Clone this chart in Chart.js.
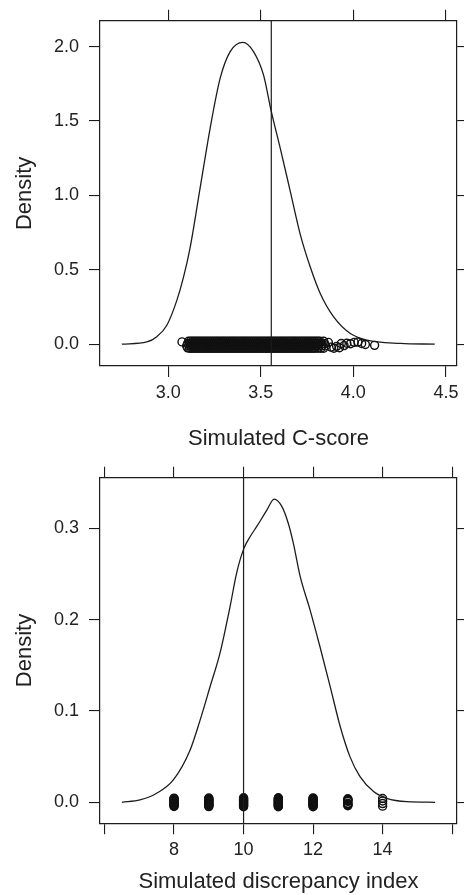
<!DOCTYPE html>
<html>
<head>
<meta charset="utf-8">
<script src="https://cdn.jsdelivr.net/npm/chart.js@4"></script>
<style>
  html, body { margin: 0; padding: 0; background: #fff; }
  #wrap { position: relative; width: 464px; height: 895px; }
  canvas { position: absolute; left: 0; }
</style>
</head>
<body>
<div id="wrap">
  <canvas id="cscore" width="464" height="455" style="top:0"></canvas>
  <canvas id="disc" width="464" height="440" style="top:455px"></canvas>
</div>
<script>
// ---- C-score panel ----
const cscoreX = [2.75, 2.885, 2.939, 2.993, 3.047, 3.083, 3.119, 3.173, 3.227, 3.281, 3.335, 3.404,
                 3.461, 3.515, 3.557, 3.605, 3.659, 3.713, 3.768, 3.822, 3.894, 3.984, 4.074, 4.254, 4.44];
const cscoreDensity = [0, 0.015, 0.05, 0.127, 0.294, 0.45, 0.651, 1.052, 1.453, 1.788, 1.967, 2.029,
                       1.967, 1.81, 1.565, 1.32, 1.03, 0.74, 0.517, 0.339, 0.183, 0.071, 0.027, 0.005, 0];
const cscoreObserved = 3.557;
const cscoreXTicks = [3.0, 3.5, 4.0, 4.5];
const cscoreYTicks = [0.0, 0.5, 1.0, 1.5, 2.0];

// simulated C-scores, drawn as a jittered rug (four jitter rows)
const simRowA = [3.11, 3.12, 3.13, 3.14, 3.15, 3.16, 3.17, 3.18, 3.19, 3.20, 3.21, 3.22, 3.23, 3.24, 3.25,
                 3.26, 3.27, 3.28, 3.29, 3.30, 3.31, 3.32, 3.33, 3.34, 3.35, 3.36, 3.37, 3.38, 3.39, 3.40,
                 3.41, 3.42, 3.43, 3.44, 3.45, 3.46, 3.47, 3.48, 3.49, 3.50, 3.51, 3.52, 3.53, 3.54, 3.55,
                 3.56, 3.57, 3.58, 3.59, 3.60, 3.61, 3.62, 3.63, 3.64, 3.65, 3.66, 3.67, 3.68, 3.69, 3.70,
                 3.71, 3.72, 3.73, 3.74, 3.75, 3.76, 3.77, 3.78, 3.79, 3.80, 3.81, 3.82, 3.84];
const simRowB = [3.105, 3.115, 3.125, 3.135, 3.145, 3.155, 3.165, 3.175, 3.185, 3.195, 3.205, 3.215, 3.225,
                 3.235, 3.245, 3.255, 3.265, 3.275, 3.285, 3.295, 3.305, 3.315, 3.325, 3.335, 3.345, 3.355,
                 3.365, 3.375, 3.385, 3.395, 3.405, 3.415, 3.425, 3.435, 3.445, 3.455, 3.465, 3.475, 3.485,
                 3.495, 3.505, 3.515, 3.525, 3.535, 3.545, 3.555, 3.565, 3.575, 3.585, 3.595, 3.605, 3.615,
                 3.625, 3.635, 3.645, 3.655, 3.665, 3.675, 3.685, 3.695, 3.705, 3.715, 3.725, 3.735, 3.745,
                 3.755, 3.765, 3.775, 3.785, 3.795, 3.805, 3.815, 3.83, 3.845];
const simRowC = [3.12, 3.13, 3.14, 3.15, 3.16, 3.17, 3.18, 3.19, 3.20, 3.21, 3.22, 3.23, 3.24, 3.25, 3.26,
                 3.27, 3.28, 3.29, 3.30, 3.31, 3.32, 3.33, 3.34, 3.35, 3.36, 3.37, 3.38, 3.39, 3.40, 3.41,
                 3.42, 3.43, 3.44, 3.45, 3.46, 3.47, 3.48, 3.49, 3.50, 3.51, 3.52, 3.53, 3.54, 3.55, 3.56,
                 3.57, 3.58, 3.59, 3.60, 3.61, 3.62, 3.63, 3.64, 3.65, 3.66, 3.67, 3.68, 3.69, 3.70, 3.71,
                 3.72, 3.73, 3.74, 3.75, 3.76, 3.77, 3.78, 3.79, 3.80, 3.81, 3.83, 3.85];
const simRowD = [3.115, 3.125, 3.135, 3.145, 3.155, 3.165, 3.175, 3.185, 3.195, 3.205, 3.215, 3.225, 3.235,
                 3.245, 3.255, 3.265, 3.275, 3.285, 3.295, 3.305, 3.315, 3.325, 3.335, 3.345, 3.355, 3.365,
                 3.375, 3.385, 3.395, 3.405, 3.415, 3.425, 3.435, 3.445, 3.455, 3.465, 3.475, 3.485, 3.495,
                 3.505, 3.515, 3.525, 3.535, 3.545, 3.555, 3.565, 3.575, 3.585, 3.595, 3.605, 3.615, 3.625,
                 3.635, 3.645, 3.655, 3.665, 3.675, 3.685, 3.695, 3.705, 3.715, 3.725, 3.735, 3.745, 3.755,
                 3.765, 3.775, 3.785, 3.795, 3.81, 3.825, 3.84];
const simRowJitter = [0.019, 0.003, -0.012, -0.028];
const simTails = [[3.075, 0.015], [3.10, -0.012], [3.105, -0.025], [3.865, 0.012], [3.88, -0.02], [3.895, -0.028],
                  [3.91, -0.015], [3.925, -0.024], [3.935, 0.004], [3.95, -0.01], [3.965, 0.006], [3.985, 0.003],
                  [4.005, 0.012], [4.025, 0.014], [4.045, 0.004], [4.065, -0.002], [4.115, -0.008]];

// ---- discrepancy panel ----
const discX = [6.5, 7.02, 7.5, 7.98, 8.46, 8.75, 9.04, 9.32, 9.61, 9.8, 10.01, 10.19, 10.38, 10.67, 10.88,
               11.1, 11.29, 11.43, 11.63, 11.91, 12.2, 12.49, 12.78, 13.06, 13.35, 13.74, 14.12, 14.7, 15.51];
const discDensity = [0, 0.0026, 0.0099, 0.0245, 0.057, 0.09, 0.127, 0.163, 0.214, 0.251, 0.278, 0.291, 0.302,
                     0.32, 0.332, 0.324, 0.305, 0.284, 0.247, 0.211, 0.17, 0.127, 0.083, 0.05, 0.028, 0.0117,
                     0.0044, 0.0007, 0];
const discObserved = 10;
const discXTicks = [6, 8, 10, 12, 14, 16];
const discXLabels = ['', '8', '10', '12', '14', ''];
const discYTicks = [0.0, 0.1, 0.2, 0.3];
// simulated discrepancy values (integers) with their vertical jitter
const discValues = [8, 9, 10, 11, 12, 13, 14];
const discJitter = [
  [-0.0046, -0.0039, -0.0032, -0.0025, -0.0018, -0.0011, -0.0004, 0.0004, 0.0011, 0.0018, 0.0025, 0.0032, 0.0039, 0.0046],
  [-0.0047, -0.004, -0.0033, -0.0026, -0.0019, -0.0012, -0.0005, 0.0005, 0.0012, 0.0019, 0.0026, 0.0033, 0.004, 0.0047],
  [-0.0049, -0.0042, -0.0035, -0.0028, -0.0021, -0.0014, -0.0007, 0, 0.0007, 0.0014, 0.0021, 0.0028, 0.0035, 0.0042, 0.0049],
  [-0.0049, -0.0042, -0.0035, -0.0028, -0.0021, -0.0014, -0.0007, 0, 0.0007, 0.0014, 0.0021, 0.0028, 0.0035, 0.0042, 0.0049],
  [-0.0048, -0.0041, -0.0034, -0.0027, -0.002, -0.0013, -0.0006, 0, 0.0006, 0.0013, 0.002, 0.0027, 0.0034, 0.0041, 0.0048],
  [-0.0038, -0.0031, -0.0024, -0.0017, -0.001, 0.001, 0.0017, 0.0024, 0.0031, 0.0038],
  [-0.0042, -0.0014, 0.0014, 0.0042]
];

const ink = '#1c1c1c';
const textInk = '#222';
const family = "'Liberation Sans', Arial, sans-serif";

function tickList(vals, labels) {
  return s => { s.ticks = vals.map((v, i) => ({ value: v, label: labels[i] })); };
}

function makeScales(c) {
  const grid = { drawOnChartArea: false, drawTicks: true, tickLength: 11, color: ink, lineWidth: 1.1 };
  const border = { display: true, color: ink, width: 1.2 };
  const hidden = { display: false };
  return {
    x: {
      type: 'linear', position: 'bottom', min: c.xMin, max: c.xMax,
      grid, border,
      afterBuildTicks: tickList(c.xTicks, c.xLabels),
      ticks: { color: textInk, font: { family, size: 18 }, padding: 5, autoSkip: false, maxRotation: 0,
               callback: (v, i) => c.xLabels[i] },
      title: { display: true, text: c.xTitle, color: textInk, font: { family, size: 22, lineHeight: 1.2 },
               padding: { top: 0, bottom: c.titlePad } },
      afterFit: s => { s.height = c.bottomH; }
    },
    x2: {
      type: 'linear', position: 'top', min: c.xMin, max: c.xMax,
      grid, border,
      afterBuildTicks: tickList(c.xTicks, c.xLabels),
      ticks: hidden,
      afterFit: s => { s.height = c.topH; }
    },
    y: {
      type: 'linear', position: 'left', min: c.yMin, max: c.yMax,
      grid, border,
      afterBuildTicks: tickList(c.yTicks, c.yLabels),
      ticks: { color: textInk, font: { family, size: 18 }, padding: 10, autoSkip: false,
               callback: (v, i) => c.yLabels[i] },
      title: { display: true, text: 'Density', color: textInk, font: { family, size: 22, lineHeight: 1.2 },
               padding: { top: 12, bottom: 0 } },
      afterFit: s => { s.width = 100; }
    },
    y2: {
      type: 'linear', position: 'right', min: c.yMin, max: c.yMax,
      grid, border,
      afterBuildTicks: tickList(c.yTicks, c.yLabels),
      ticks: hidden,
      afterFit: s => { s.width = 7; }
    }
  };
}

function makeChart(id, c) {
  return new Chart(document.getElementById(id).getContext('2d'), {
    type: 'scatter',
    data: {
      datasets: [
        {
          type: 'line',
          data: c.curveX.map((x, i) => ({ x, y: c.curveY[i] })),
          borderColor: ink, borderWidth: 1.3, pointRadius: 0,
          cubicInterpolationMode: 'monotone', fill: false
        },
        {
          type: 'line',
          data: [{ x: c.observed, y: c.yMin }, { x: c.observed, y: c.yMax }],
          borderColor: ink, borderWidth: 1.2, pointRadius: 0, fill: false
        },
        {
          data: c.rug.map(p => ({ x: p[0], y: p[1] })),
          pointStyle: 'circle', pointRadius: 4, borderWidth: 1.4,
          borderColor: '#111', backgroundColor: 'rgba(0,0,0,0)'
        }
      ]
    },
    options: {
      responsive: false,
      animation: false,
      events: [],
      layout: { padding: 0 },
      plugins: { legend: { display: false }, tooltip: { enabled: false } },
      scales: makeScales(c)
    }
  });
}

const cscoreRug = simTails.slice();
[simRowA, simRowB, simRowC, simRowD].forEach((row, r) => {
  row.forEach(x => cscoreRug.push([x, simRowJitter[r]]));
});

const discRug = [];
discValues.forEach((v, i) => {
  discJitter[i].forEach(j => discRug.push([v, j]));
});

makeChart('cscore', {
  curveX: cscoreX, curveY: cscoreDensity, observed: cscoreObserved, rug: cscoreRug,
  xMin: 2.632, xMax: 4.56, yMin: -0.147, yMax: 2.174,
  xTicks: cscoreXTicks, xLabels: cscoreXTicks.map(v => v.toFixed(1)),
  yTicks: cscoreYTicks, yLabels: cscoreYTicks.map(v => v.toFixed(1)),
  xTitle: 'Simulated C-score', titlePad: 3, bottomH: 89, topH: 19
});

makeChart('disc', {
  curveX: discX, curveY: discDensity, observed: discObserved, rug: discRug,
  xMin: 5.87, xMax: 16.14, yMin: -0.023, yMax: 0.3554,
  xTicks: discXTicks, xLabels: discXLabels,
  yTicks: discYTicks, yLabels: discYTicks.map(v => v.toFixed(1)),
  xTitle: 'Simulated discrepancy index', titlePad: 0, bottomH: 71.7, topH: 22.7
});
</script>
</body>
</html>
